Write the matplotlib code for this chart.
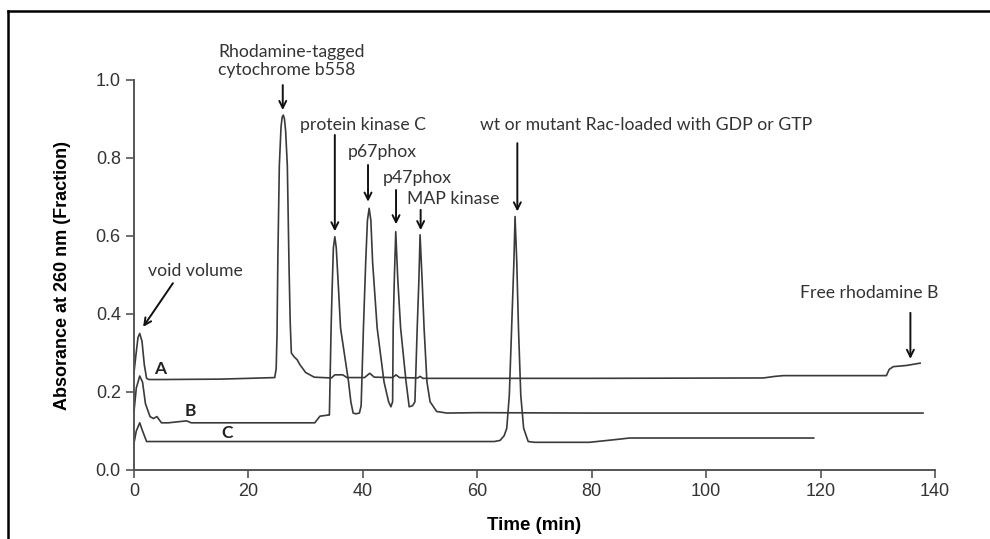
import matplotlib
matplotlib.use("Agg")
import matplotlib.pyplot as plt
from matplotlib.lines import Line2D

# Trace A (time in min, absorbance)
a_time = [0, 0.3, 0.7, 1.0, 1.4, 1.8, 2.2, 2.6, 5, 15, 20, 24.6, 24.85, 25.0, 25.15, 25.4, 25.7,
          25.9, 26.1, 26.3, 26.5, 26.8, 27.1, 27.3, 27.5, 28.0, 28.5, 29.0, 30.0, 31.5, 34.5,
          35.1, 36.5, 37.2, 40.3, 41.2, 42.0, 45.2, 45.8, 46.4, 49.6, 50.0, 50.5, 80, 110, 112,
          113.5, 131.5, 132.0, 132.7, 135.0, 137.4]
a_abs = [0.25, 0.29, 0.34, 0.35, 0.33, 0.27, 0.235, 0.232, 0.232, 0.233, 0.235, 0.237, 0.26, 0.35,
         0.55, 0.78, 0.88, 0.905, 0.91, 0.90, 0.87, 0.78, 0.52, 0.38, 0.30, 0.29, 0.283, 0.27,
         0.25, 0.238, 0.236, 0.244, 0.244, 0.237, 0.237, 0.248, 0.238, 0.237, 0.244, 0.237,
         0.236, 0.240, 0.235, 0.235, 0.236, 0.240, 0.242, 0.242, 0.258, 0.265, 0.268, 0.274]

# Trace B
b_time = [0, 0.4, 1.0, 1.5, 2.0, 2.8, 3.4, 4.0, 4.8, 6, 9.2, 10, 20, 31.6, 32.5, 34.0, 34.15,
          34.45, 34.6, 34.85, 35.1, 35.35, 35.8, 36.1, 37.5, 37.9, 38.3, 38.8, 39.4, 39.7, 40.1,
          40.5, 40.8, 41.1, 41.4, 41.7, 42.5, 43.7, 44.5, 44.9, 45.2, 45.3, 45.5, 45.75, 46.1,
          46.6, 47.55, 48.1, 48.7, 49.1, 49.5, 49.8, 50.0, 50.35, 50.7, 51.2, 51.75, 52.9, 54.7,
          60, 80, 100, 137.9]
b_abs = [0.15, 0.21, 0.241, 0.225, 0.17, 0.137, 0.132, 0.137, 0.121, 0.121, 0.126, 0.121, 0.121,
         0.121, 0.138, 0.141, 0.141, 0.364, 0.449, 0.57, 0.598, 0.57, 0.449, 0.364, 0.226,
         0.175, 0.146, 0.144, 0.146, 0.165, 0.364, 0.534, 0.64, 0.671, 0.64, 0.534, 0.364,
         0.226, 0.175, 0.162, 0.175, 0.364, 0.49, 0.611, 0.49, 0.364, 0.226, 0.162, 0.165,
         0.175, 0.364, 0.49, 0.603, 0.49, 0.364, 0.226, 0.175, 0.150, 0.146, 0.147, 0.146,
         0.146, 0.146]

# Trace C
c_time = [0, 0.4, 1.0, 1.5, 2.2, 5, 30, 63.0, 64.0, 64.7, 65.15, 65.6, 66.0, 66.4, 66.6, 66.9,
          67.2, 67.6, 68.1, 68.9, 70, 75, 79.6, 84.8, 86.6, 100, 118.8]
c_abs = [0.069, 0.10, 0.121, 0.10, 0.073, 0.073, 0.073, 0.073, 0.076, 0.088, 0.107, 0.192, 0.363,
         0.534, 0.65, 0.534, 0.363, 0.192, 0.107, 0.073, 0.071, 0.071, 0.071, 0.079, 0.082,
         0.082, 0.082]

x_ticks = [0, 20, 40, 60, 80, 100, 120, 140]
y_ticks = [0.0, 0.2, 0.4, 0.6, 0.8, 1.0]

# (text, text_x, text_y, arrow_x0, arrow_y0, arrow_x1, arrow_y1)
peak_notes = [
    ("Rhodamine-tagged\ncytochrome b558", 14.7, 1.049, 26.0, 0.987, 26.0, 0.923),
    ("void volume", 2.45, 0.510, 6.8, 0.479, 1.6, 0.367),
    ("protein kinase C", 29.0, 0.885, 35.1, 0.859, 35.1, 0.612),
    ("p67phox", 37.4, 0.815, 40.9, 0.782, 40.9, 0.688),
    ("p47phox", 43.5, 0.749, 45.8, 0.718, 45.8, 0.630),
    ("MAP kinase", 47.7, 0.695, 50.1, 0.667, 50.1, 0.615),
    ("wt or mutant Rac-loaded with GDP or GTP", 60.5, 0.885, 67.0, 0.838, 67.0, 0.663),
    ("Free rhodamine B", 116.4, 0.454, 135.7, 0.403, 135.7, 0.285),
]
trace_labels = [("A", 4.5, 0.259), ("B", 9.8, 0.150), ("C", 16.2, 0.096)]

note_font = "Lato"
line_col = "#3a3a3a"

fig = plt.figure(figsize=(9.9, 5.39), dpi=100)
ax = fig.add_axes([134 / 990, 1 - 470 / 539, (935 - 134) / 990, (470 - 80) / 539])

for t, v in [(a_time, a_abs), (b_time, b_abs), (c_time, c_abs)]:
    ax.plot(t, v, color=line_col, lw=1.2, clip_on=False, solid_joinstyle="round")

ax.set_xlim(0, 140)
ax.set_ylim(0, 1.0)
ax.set_xticks(x_ticks)
ax.set_yticks(y_ticks)
ax.set_yticklabels([f"{v:.1f}" for v in y_ticks])
ax.tick_params(direction="out", length=6, width=1.2, color="#555555",
               labelsize=13, labelcolor="#333333")
for lab in ax.get_xticklabels() + ax.get_yticklabels():
    lab.set_family("Liberation Sans")
for s in ["top", "right"]:
    ax.spines[s].set_visible(False)
for s in ["left", "bottom"]:
    ax.spines[s].set_color("#555555")
    ax.spines[s].set_linewidth(1.4)

ax.set_xlabel("Time (min)", fontsize=13.5, fontweight="bold", family="Liberation Sans",
              labelpad=12)
ax.set_ylabel("Absorance at 260 nm (Fraction)", fontsize=13, fontweight="bold",
              family="Liberation Sans", labelpad=18)

for txt, tx, ty, x0, y0, x1, y1 in peak_notes:
    ax.text(tx, ty, txt, fontsize=12.7, family=note_font, color="#333333",
            ha="left", va="center", linespacing=1.1, clip_on=False)
    ax.annotate("", xy=(x1, y1), xytext=(x0, y0), annotation_clip=False,
                arrowprops=dict(arrowstyle="->,head_length=0.5,head_width=0.25",
                                color="#111111", lw=1.4, shrinkA=0, shrinkB=0))

for txt, tx, ty in trace_labels:
    ax.text(tx, ty, txt, fontsize=12.5, family=note_font, fontweight="bold",
            color="#222222", ha="center", va="center")

# outer frame of the original figure
fig.add_artist(Line2D([8 / 990, 1.0], [1 - 11 / 539, 1 - 11 / 539], color="black", lw=1.8))
fig.add_artist(Line2D([8 / 990, 8 / 990], [0.0, 1 - 11 / 539], color="black", lw=1.8))

fig.savefig("out.png", dpi=100)
